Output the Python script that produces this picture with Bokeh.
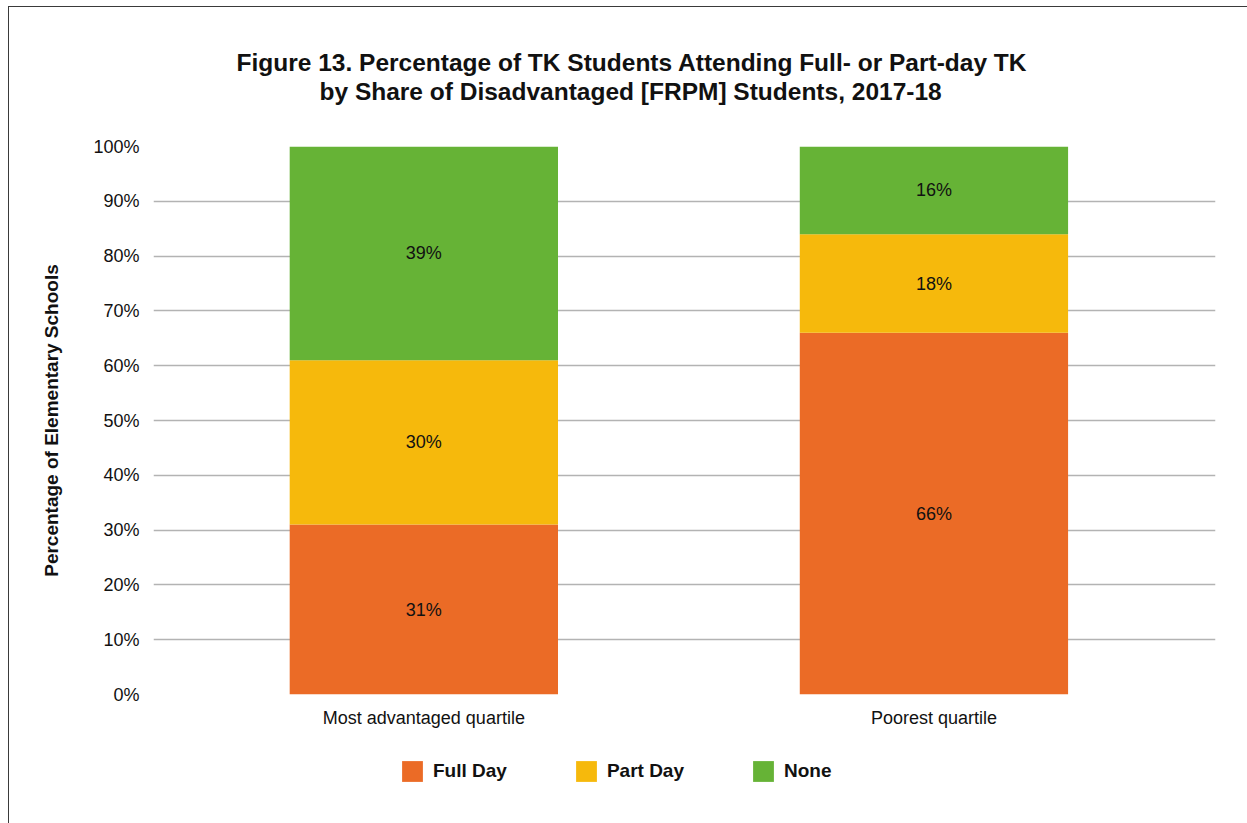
from bokeh.plotting import figure
from bokeh.layouts import column
from bokeh.models import (ColumnDataSource, Legend, LegendItem, FixedTicker,
                          Range1d, LabelSet, Title)
from bokeh.core.properties import value
from bokeh.embed import file_html
from bokeh.resources import INLINE

# --- data -------------------------------------------------------------
quartiles = ["Most advantaged quartile", "Poorest quartile"]
full_day = [31, 66]
part_day = [30, 18]
no_tk = [39, 16]
series_names = ["Full Day", "Part Day", "None"]
series_colors = ["#EB6B26", "#F6B90C", "#66B336"]
y_ticks = [0, 10, 20, 30, 40, 50, 60, 70, 80, 90, 100]
y_tick_labels = [f"{t}%" for t in y_ticks]
title_lines = ["Figure 13. Percentage of TK Students Attending Full- or Part-day TK",
               "by Share of Disadvantaged [FRPM] Students, 2017-18"]

FONT = "Liberation Sans"

positions = list(range(len(quartiles)))
source = ColumnDataSource(dict(x=positions, full=full_day, part=part_day, none=no_tk))

# ---------------- main chart -------------------------------------------
p = figure(width=1239, height=733, title=None,
           x_range=Range1d(-0.530, 1.552), y_range=Range1d(0, 100),
           output_backend="svg", toolbar_location=None,
           min_border_left=144, min_border_right=33,
           min_border_top=139, min_border_bottom=46)
p.outline_line_color = None
p.background_fill_color = "white"
p.border_fill_color = "white"

renderers = p.vbar_stack(["full", "part", "none"], x="x", width=0.526,
                         source=source, color=series_colors, line_color=None)

# value labels centred in each segment
lab_x, lab_y, lab_t = [], [], []
for i in positions:
    base = 0
    for vals in (full_day, part_day, no_tk):
        v = vals[i]
        lab_x.append(i)
        lab_y.append(base + v / 2)
        lab_t.append(f"{v}%")
        base += v
labels = LabelSet(x="x", y="y", text="t",
                  source=ColumnDataSource(dict(x=lab_x, y=lab_y, t=lab_t)),
                  text_align="center", text_baseline="middle",
                  text_font=value(FONT), text_font_size="18px",
                  text_color="#111111")
p.add_layout(labels)

# title: a blank spacer next to the frame, then the two lines stacked above it
p.add_layout(Title(text=" ", text_font_size="10px", standoff=29), "above")
for line, off in zip(reversed(title_lines), (166, 83)):
    t = Title(text=line, align="left", offset=off, standoff=0,
              text_font=FONT, text_font_size="24.5px", text_font_style="bold",
              text_color="#111111")
    p.add_layout(t, "above")

# axes
p.xaxis.ticker = FixedTicker(ticks=positions)
p.xaxis.major_label_overrides = {i: q for i, q in zip(positions, quartiles)}
p.yaxis.ticker = FixedTicker(ticks=y_ticks)
p.yaxis.major_label_overrides = {t: l for t, l in zip(y_ticks, y_tick_labels)}
for ax in (p.xaxis, p.yaxis):
    ax.axis_line_color = None
    ax.major_tick_line_color = None
    ax.minor_tick_line_color = None
    ax.major_tick_out = 0
    ax.major_tick_in = 0
    ax.major_label_text_font = FONT
    ax.major_label_text_font_size = "18px"
    ax.major_label_text_color = "#111111"
p.xaxis.major_label_standoff = 13
p.yaxis.major_label_standoff = 14
p.yaxis.axis_label = "Percentage of Elementary Schools"
p.yaxis.axis_label_text_font = FONT
p.yaxis.axis_label_text_font_size = "19px"
p.yaxis.axis_label_text_font_style = "bold"
p.yaxis.axis_label_text_color = "#111111"
p.yaxis.axis_label_standoff = 28

p.xgrid.grid_line_color = None
p.ygrid.ticker = FixedTicker(ticks=y_ticks)
p.ygrid.grid_line_color = "#b3b3b3"
p.ygrid.grid_line_width = 1.5

# ---------------- legend strip ------------------------------------------
LEG_H = 90
pl = figure(width=1239, height=LEG_H, title=None,
            x_range=Range1d(0, 1), y_range=Range1d(0, 1),
            x_axis_type=None, y_axis_type=None,
            output_backend="svg", toolbar_location=None,
            min_border=0)
pl.outline_line_color = None
pl.grid.grid_line_color = None
pl.border_fill_color = "white"

# flat (zero-height) bars that only serve as legend swatches
swatches = [pl.vbar(x=[0], top=[0], bottom=[0], width=0.01,
                    color=c, line_color=None)
            for c in series_colors]
legend = Legend(items=[LegendItem(label=n, renderers=[r])
                       for n, r in zip(series_names, swatches)],
                orientation="horizontal", location=(246, LEG_H - 44),
                glyph_width=26, glyph_height=26, label_standoff=8,
                spacing=66, padding=0, margin=0,
                border_line_color=None, background_fill_alpha=0,
                label_text_font=FONT, label_text_font_size="19px",
                label_text_font_style="bold", label_text_color="#111111")
pl.add_layout(legend)

page = column(p, pl, spacing=0, margin=(6, 0, 0, 8),
              styles={"border-left": "1px solid #3a3a3a",
                      "border-top": "1px solid #3a3a3a"})

open("out.html", "w").write(file_html(page, INLINE))
